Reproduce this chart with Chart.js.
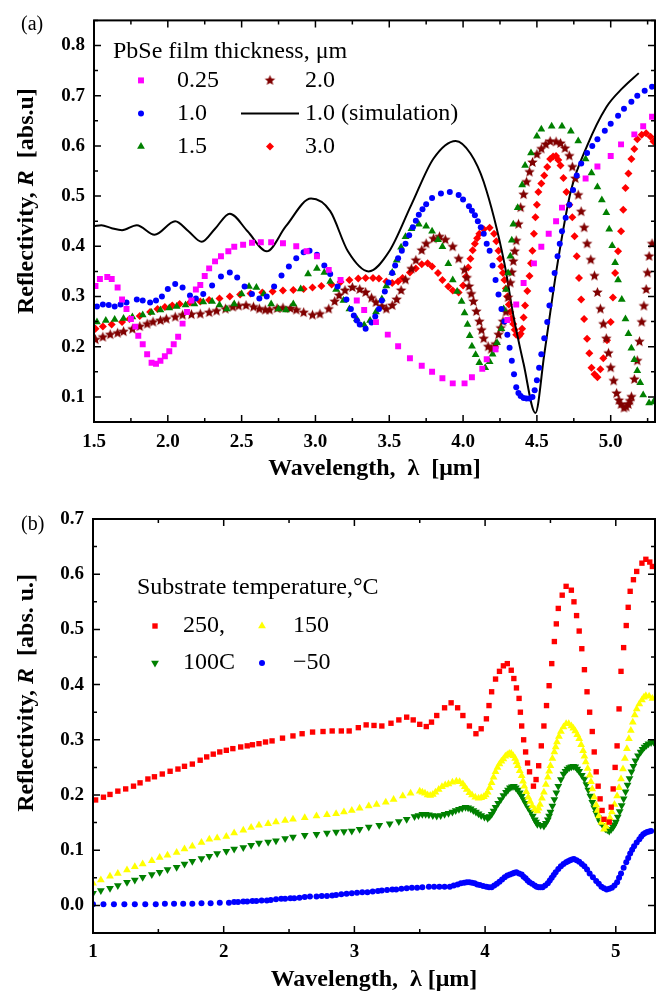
<!DOCTYPE html>
<html>
<head>
<meta charset="utf-8">
<title>PbSe reflectivity</title>
<script src="https://cdn.jsdelivr.net/npm/chart.js@4.4.1/dist/chart.umd.min.js"></script>
<style>
  body { margin: 0; background: #fff; }
  canvas { display: block; }
</style>
</head>
<body>
<canvas id="film-chart" width="665" height="495"></canvas>
<canvas id="temp-chart" width="665" height="505"></canvas>
<script>
// ---- (a) PbSe film thickness ----
const filmWl025 = [
  1.51, 1.54, 1.59, 1.62, 1.66, 1.69, 1.72, 1.75, 1.78, 1.80,
  1.83, 1.86, 1.89, 1.92, 1.95, 1.98, 2.01, 2.04, 2.07, 2.10,
  2.13, 2.16, 2.19, 2.22, 2.25, 2.28, 2.32, 2.36, 2.41, 2.45,
  2.51, 2.57, 2.63, 2.70, 2.78, 2.87, 2.94, 3.01, 3.09, 3.17,
  3.28, 3.33, 3.41, 3.49, 3.56, 3.64, 3.72, 3.79, 3.86, 3.93,
  4.01, 4.06, 4.13, 4.16, 4.22, 4.30, 4.36, 4.41, 4.48, 4.53,
  4.58, 4.63, 4.67, 4.83, 4.91, 5.00, 5.07, 5.16, 5.22, 5.28,
];
const filmR025 = [
  0.321, 0.335, 0.339, 0.335, 0.318, 0.294, 0.275, 0.255, 0.240, 0.222,
  0.205, 0.185, 0.168, 0.166, 0.172, 0.181, 0.191, 0.205, 0.220, 0.246,
  0.269, 0.292, 0.314, 0.323, 0.341, 0.356, 0.370, 0.380, 0.390, 0.399,
  0.403, 0.407, 0.408, 0.408, 0.406, 0.400, 0.390, 0.380, 0.353, 0.333,
  0.292, 0.273, 0.249, 0.224, 0.201, 0.177, 0.162, 0.150, 0.137, 0.127,
  0.127, 0.139, 0.156, 0.175, 0.195, 0.253, 0.284, 0.327, 0.366, 0.399,
  0.425, 0.450, 0.477, 0.535, 0.559, 0.580, 0.603, 0.623, 0.639, 0.658,
];

const filmWl10 = [
  1.52, 1.56, 1.60, 1.64, 1.68, 1.72, 1.79, 1.83, 1.88, 1.92,
  1.96, 2.00, 2.05, 2.10, 2.15, 2.19, 2.24, 2.30, 2.36, 2.42,
  2.47, 2.52, 2.57, 2.62, 2.67, 2.72, 2.77, 2.82, 2.87, 2.92,
  2.96, 3.01, 3.06, 3.10, 3.15, 3.21, 3.24, 3.26, 3.28, 3.30,
  3.34, 3.38, 3.405, 3.43, 3.45, 3.47, 3.495, 3.52, 3.54, 3.56,
  3.585, 3.61, 3.635, 3.66, 3.68, 3.70, 3.725, 3.75, 3.79, 3.85,
  3.91, 3.97, 4.00, 4.04, 4.06, 4.08, 4.10, 4.12, 4.14, 4.16,
  4.18, 4.20, 4.22, 4.24, 4.26, 4.28, 4.30, 4.315, 4.33, 4.345,
  4.36, 4.375, 4.39, 4.41, 4.43, 4.45, 4.47, 4.485, 4.50, 4.515,
  4.53, 4.55, 4.57, 4.585, 4.60, 4.62, 4.64, 4.655, 4.67, 4.695,
  4.72, 4.745, 4.77, 4.80, 4.84, 4.875, 4.91, 4.96, 5.00, 5.05,
  5.09, 5.14, 5.18, 5.23, 5.28,
];
const filmR10 = [
  0.280, 0.284, 0.283, 0.280, 0.284, 0.288, 0.294, 0.292, 0.288, 0.292,
  0.300, 0.315, 0.325, 0.318, 0.302, 0.296, 0.305, 0.322, 0.340, 0.348,
  0.338, 0.320, 0.305, 0.296, 0.300, 0.320, 0.342, 0.360, 0.376, 0.388,
  0.391, 0.383, 0.362, 0.345, 0.320, 0.294, 0.275, 0.262, 0.252, 0.244,
  0.236, 0.248, 0.260, 0.275, 0.292, 0.310, 0.328, 0.347, 0.362, 0.376,
  0.391, 0.405, 0.422, 0.438, 0.451, 0.463, 0.474, 0.484, 0.496, 0.505,
  0.508, 0.502, 0.493, 0.480, 0.471, 0.462, 0.450, 0.438, 0.425, 0.405,
  0.391, 0.362, 0.333, 0.304, 0.275, 0.250, 0.224, 0.198, 0.172, 0.145,
  0.119, 0.108, 0.102, 0.098, 0.097, 0.097, 0.100, 0.113, 0.133, 0.158,
  0.185, 0.217, 0.249, 0.282, 0.314, 0.347, 0.380, 0.405, 0.430, 0.457,
  0.483, 0.512, 0.541, 0.565, 0.586, 0.600, 0.613, 0.630, 0.644, 0.660,
  0.674, 0.688, 0.700, 0.710, 0.718,
];

const filmWl15 = [
  1.52, 1.58, 1.64, 1.70, 1.76, 1.83, 1.89, 1.95, 2.01, 2.06,
  2.12, 2.18, 2.24, 2.30, 2.35, 2.40, 2.45, 2.50, 2.55, 2.60,
  2.65, 2.70, 2.75, 2.80, 2.85, 2.90, 2.95, 3.01, 3.06, 3.10,
  3.14, 3.19, 3.23, 3.28, 3.33, 3.37, 3.41, 3.45, 3.48, 3.52,
  3.55, 3.58, 3.61, 3.65, 3.70, 3.75, 3.79, 3.83, 3.86, 3.90,
  3.93, 3.96, 3.99, 4.01, 4.03, 4.045, 4.06, 4.085, 4.11, 4.15,
  4.18, 4.20, 4.23, 4.26, 4.275, 4.29, 4.305, 4.32, 4.33, 4.34,
  4.37, 4.40, 4.42, 4.46, 4.50, 4.53, 4.60, 4.67, 4.73, 4.78,
  4.83, 4.87, 4.91, 4.94, 4.97, 4.99, 5.01, 5.03, 5.05, 5.075,
  5.10, 5.12, 5.14, 5.16, 5.18, 5.20, 5.22, 5.26, 5.29,
];
const filmR15 = [
  0.249, 0.252, 0.254, 0.256, 0.259, 0.263, 0.268, 0.273, 0.277, 0.280,
  0.283, 0.285, 0.289, 0.290, 0.283, 0.275, 0.285, 0.305, 0.320, 0.318,
  0.305, 0.285, 0.275, 0.273, 0.285, 0.315, 0.345, 0.356, 0.348, 0.330,
  0.314, 0.292, 0.275, 0.255, 0.243, 0.252, 0.269, 0.295, 0.321, 0.348,
  0.372, 0.398, 0.419, 0.435, 0.444, 0.440, 0.430, 0.413, 0.399, 0.365,
  0.333, 0.310, 0.290, 0.267, 0.244, 0.222, 0.201, 0.184, 0.168, 0.158,
  0.170, 0.185, 0.208, 0.236, 0.275, 0.314, 0.347, 0.380, 0.412, 0.444,
  0.477, 0.522, 0.561, 0.586, 0.619, 0.633, 0.639, 0.639, 0.629, 0.610,
  0.574, 0.546, 0.518, 0.492, 0.467, 0.434, 0.401, 0.367, 0.333, 0.294,
  0.255, 0.226, 0.197, 0.174, 0.152, 0.128, 0.104, 0.088, 0.090,
];

const filmWl20 = [
  1.51, 1.56, 1.61, 1.66, 1.70, 1.76, 1.81, 1.86, 1.90, 1.95,
  1.99, 2.05, 2.10, 2.16, 2.22, 2.28, 2.33, 2.39, 2.44, 2.48,
  2.53, 2.58, 2.62, 2.66, 2.69, 2.74, 2.78, 2.83, 2.87, 2.92,
  2.98, 3.03, 3.09, 3.13, 3.16, 3.20, 3.25, 3.30, 3.34, 3.38,
  3.41, 3.45, 3.48, 3.52, 3.55, 3.58, 3.61, 3.65, 3.68, 3.72,
  3.75, 3.80, 3.84, 3.88, 3.93, 3.97, 4.01, 4.025, 4.04, 4.055,
  4.07, 4.09, 4.11, 4.125, 4.14, 4.17, 4.19, 4.21, 4.22, 4.24,
  4.255, 4.27, 4.29, 4.305, 4.32, 4.33, 4.34, 4.35, 4.36, 4.375,
  4.39, 4.41, 4.43, 4.45, 4.47, 4.50, 4.53, 4.56, 4.59, 4.63,
  4.66, 4.69, 4.72, 4.74, 4.76, 4.78, 4.80, 4.82, 4.84, 4.865,
  4.89, 4.91, 4.93, 4.95, 4.97, 4.985, 5.00, 5.02, 5.04, 5.055,
  5.07, 5.09, 5.105, 5.12, 5.13, 5.14, 5.16, 5.18, 5.195, 5.21,
  5.225, 5.24, 5.25, 5.26, 5.28,
];
const filmR20 = [
  0.214, 0.219, 0.224, 0.227, 0.230, 0.235, 0.240, 0.245, 0.249, 0.252,
  0.255, 0.259, 0.263, 0.264, 0.265, 0.268, 0.271, 0.275, 0.279, 0.281,
  0.282, 0.279, 0.275, 0.273, 0.273, 0.276, 0.277, 0.276, 0.273, 0.268,
  0.263, 0.265, 0.275, 0.290, 0.302, 0.312, 0.318, 0.314, 0.308, 0.297,
  0.288, 0.280, 0.275, 0.282, 0.294, 0.312, 0.333, 0.355, 0.372, 0.392,
  0.405, 0.415, 0.419, 0.413, 0.399, 0.375, 0.353, 0.337, 0.320, 0.305,
  0.290, 0.270, 0.250, 0.233, 0.216, 0.200, 0.195, 0.198, 0.205, 0.224,
  0.237, 0.250, 0.269, 0.298, 0.327, 0.348, 0.370, 0.390, 0.411, 0.444,
  0.477, 0.503, 0.528, 0.548, 0.567, 0.583, 0.594, 0.603, 0.609, 0.608,
  0.605, 0.595, 0.580, 0.558, 0.535, 0.502, 0.469, 0.437, 0.405, 0.373,
  0.341, 0.308, 0.275, 0.245, 0.216, 0.187, 0.158, 0.132, 0.107, 0.093,
  0.085, 0.078, 0.080, 0.085, 0.092, 0.100, 0.135, 0.172, 0.210, 0.249,
  0.281, 0.314, 0.347, 0.380, 0.405,
];

const filmWl30 = [
  1.51, 1.56, 1.62, 1.69, 1.74, 1.81, 1.88, 1.93, 1.98, 2.03,
  2.08, 2.15, 2.22, 2.28, 2.35, 2.42, 2.49, 2.56, 2.64, 2.71,
  2.78, 2.85, 2.92, 2.98, 3.04, 3.11, 3.17, 3.23, 3.29, 3.34,
  3.39, 3.43, 3.48, 3.52, 3.56, 3.59, 3.64, 3.68, 3.72, 3.76,
  3.79, 3.83, 3.86, 3.90, 3.93, 3.97, 4.00, 4.02, 4.035, 4.05,
  4.065, 4.08, 4.095, 4.11, 4.14, 4.18, 4.21, 4.225, 4.24, 4.25,
  4.26, 4.27, 4.28, 4.29, 4.30, 4.31, 4.32, 4.33, 4.34, 4.35,
  4.36, 4.38, 4.39, 4.40, 4.41, 4.42, 4.435, 4.45, 4.46, 4.47,
  4.48, 4.49, 4.50, 4.51, 4.53, 4.55, 4.57, 4.59, 4.61, 4.63,
  4.645, 4.66, 4.68, 4.70, 4.72, 4.74, 4.755, 4.77, 4.785, 4.80,
  4.82, 4.84, 4.855, 4.87, 4.89, 4.91, 4.93, 4.95, 4.975, 5.00,
  5.015, 5.03, 5.05, 5.07, 5.085, 5.10, 5.12, 5.14, 5.16, 5.18,
  5.21, 5.24, 5.27, 5.29,
];
const filmR30 = [
  0.236, 0.240, 0.244, 0.249, 0.255, 0.261, 0.269, 0.275, 0.279, 0.282,
  0.285, 0.288, 0.290, 0.293, 0.296, 0.300, 0.304, 0.306, 0.308, 0.310,
  0.312, 0.313, 0.315, 0.318, 0.321, 0.324, 0.329, 0.333, 0.336, 0.337,
  0.337, 0.336, 0.330, 0.327, 0.330, 0.337, 0.348, 0.356, 0.364, 0.366,
  0.360, 0.347, 0.333, 0.320, 0.312, 0.308, 0.322, 0.340, 0.358, 0.375,
  0.392, 0.405, 0.416, 0.425, 0.434, 0.437, 0.425, 0.410, 0.391, 0.375,
  0.360, 0.347, 0.333, 0.316, 0.300, 0.284, 0.269, 0.256, 0.245, 0.234,
  0.224, 0.222, 0.226, 0.236, 0.258, 0.282, 0.311, 0.341, 0.366, 0.391,
  0.425, 0.458, 0.483, 0.508, 0.525, 0.541, 0.558, 0.574, 0.579, 0.580,
  0.572, 0.561, 0.536, 0.508, 0.483, 0.458, 0.420, 0.380, 0.337, 0.294,
  0.255, 0.216, 0.187, 0.158, 0.145, 0.139, 0.155, 0.177, 0.213, 0.249,
  0.298, 0.347, 0.390, 0.430, 0.473, 0.516, 0.545, 0.574, 0.594, 0.613,
  0.622, 0.625, 0.618, 0.609,
];

const simWl = [
  1.50, 1.55, 1.62, 1.69, 1.79, 1.91, 2.05, 2.14, 2.23, 2.32,
  2.42, 2.54, 2.67, 2.80, 2.97, 3.10, 3.22, 3.36, 3.50, 3.65,
  3.80, 3.95, 4.05, 4.14, 4.28, 4.34, 4.41, 4.49, 4.55, 4.64,
  4.73, 4.84, 4.97, 5.08, 5.19,
];
const simR = [
  0.440, 0.442, 0.436, 0.432, 0.442, 0.423, 0.450, 0.430, 0.409, 0.435,
  0.465, 0.430, 0.390, 0.440, 0.495, 0.470, 0.390, 0.350, 0.390, 0.483,
  0.575, 0.610, 0.585, 0.528, 0.366, 0.263, 0.166, 0.068, 0.185, 0.366,
  0.510, 0.600, 0.677, 0.715, 0.745,
];

const filmXMajor = [1.5, 2.0, 2.5, 3.0, 3.5, 4.0, 4.5, 5.0];
const filmXMinor = [1.75, 2.25, 2.75, 3.25, 3.75, 4.25, 4.75, 5.25];
const filmYMajor = [0.1, 0.2, 0.3, 0.4, 0.5, 0.6, 0.7, 0.8];
const filmYMinor = [0.05, 0.15, 0.25, 0.35, 0.45, 0.55, 0.65, 0.75, 0.85];

// ---- (b) substrate temperature ----
const tempWl250 = [
  1.02, 1.08, 1.13, 1.19, 1.25, 1.31, 1.36, 1.42, 1.47, 1.53,
  1.59, 1.65, 1.70, 1.76, 1.82, 1.87, 1.92, 1.97, 2.02, 2.07,
  2.13, 2.18, 2.22, 2.27, 2.32, 2.37, 2.45, 2.53, 2.60, 2.68,
  2.76, 2.83, 2.90, 2.96, 3.03, 3.09, 3.15, 3.21, 3.28, 3.34,
  3.40, 3.45, 3.50, 3.55, 3.59, 3.63, 3.69, 3.74, 3.79, 3.83,
  3.88, 3.93, 3.97, 4.01, 4.03, 4.05, 4.08, 4.11, 4.14, 4.17,
  4.20, 4.22, 4.24, 4.26, 4.27, 4.28, 4.295, 4.31, 4.325, 4.34,
  4.37, 4.39, 4.41, 4.43, 4.45, 4.47, 4.49, 4.51, 4.53, 4.545,
  4.56, 4.59, 4.62, 4.66, 4.68, 4.70, 4.72, 4.74, 4.76, 4.78,
  4.80, 4.82, 4.835, 4.85, 4.865, 4.88, 4.895, 4.91, 4.95, 4.965,
  4.98, 4.995, 5.01, 5.025, 5.04, 5.06, 5.08, 5.095, 5.11, 5.135,
  5.16, 5.20, 5.23, 5.26, 5.28,
];
const tempR250 = [
  0.191, 0.196, 0.201, 0.207, 0.211, 0.216, 0.222, 0.229, 0.233, 0.238,
  0.243, 0.247, 0.252, 0.256, 0.263, 0.269, 0.274, 0.278, 0.281, 0.284,
  0.287, 0.289, 0.291, 0.293, 0.296, 0.298, 0.303, 0.307, 0.311, 0.314,
  0.315, 0.316, 0.316, 0.316, 0.322, 0.327, 0.326, 0.325, 0.330, 0.336,
  0.341, 0.336, 0.328, 0.324, 0.332, 0.344, 0.358, 0.367, 0.358, 0.344,
  0.325, 0.311, 0.320, 0.338, 0.362, 0.387, 0.410, 0.424, 0.434, 0.438,
  0.426, 0.411, 0.394, 0.375, 0.350, 0.325, 0.300, 0.278, 0.258, 0.242,
  0.216, 0.228, 0.253, 0.289, 0.325, 0.362, 0.398, 0.438, 0.478, 0.510,
  0.538, 0.562, 0.578, 0.571, 0.550, 0.525, 0.497, 0.465, 0.427, 0.387,
  0.350, 0.315, 0.278, 0.242, 0.216, 0.193, 0.172, 0.156, 0.151, 0.178,
  0.211, 0.250, 0.289, 0.356, 0.424, 0.467, 0.507, 0.540, 0.569, 0.590,
  0.605, 0.620, 0.627, 0.622, 0.614,
];

const tempWl150 = [
  1.00, 1.06, 1.13, 1.19, 1.26, 1.32, 1.38, 1.45, 1.51, 1.57,
  1.64, 1.70, 1.76, 1.83, 1.89, 1.95, 2.02, 2.08, 2.15, 2.21,
  2.27, 2.34, 2.40, 2.47, 2.53, 2.62, 2.71, 2.79, 2.86, 2.92,
  2.98, 3.04, 3.11, 3.17, 3.24, 3.30, 3.37, 3.43, 3.50, 3.52,
  3.54, 3.56, 3.58, 3.60, 3.62, 3.645, 3.67, 3.695, 3.72, 3.75,
  3.78, 3.805, 3.83, 3.845, 3.86, 3.88, 3.90, 3.925, 3.95, 3.97,
  3.99, 4.005, 4.02, 4.035, 4.05, 4.065, 4.08, 4.095, 4.11, 4.125,
  4.14, 4.155, 4.17, 4.185, 4.20, 4.215, 4.23, 4.24, 4.25, 4.265,
  4.28, 4.29, 4.30, 4.315, 4.33, 4.345, 4.36, 4.38, 4.40, 4.41,
  4.42, 4.435, 4.45, 4.465, 4.48, 4.49, 4.50, 4.515, 4.53, 4.54,
  4.55, 4.565, 4.58, 4.60, 4.62, 4.64, 4.66, 4.675, 4.69, 4.705,
  4.72, 4.735, 4.75, 4.76, 4.77, 4.785, 4.80, 4.81, 4.82, 4.835,
  4.85, 4.86, 4.87, 4.89, 4.91, 4.925, 4.94, 4.955, 4.97, 4.99,
  5.01, 5.025, 5.04, 5.055, 5.07, 5.085, 5.10, 5.115, 5.13, 5.145,
  5.16, 5.18, 5.20, 5.215, 5.23, 5.255, 5.28,
];
const tempR150 = [
  0.040, 0.046, 0.053, 0.058, 0.064, 0.070, 0.075, 0.081, 0.087, 0.091,
  0.096, 0.102, 0.107, 0.114, 0.120, 0.122, 0.125, 0.131, 0.136, 0.141,
  0.145, 0.148, 0.151, 0.154, 0.156, 0.159, 0.162, 0.164, 0.166, 0.169,
  0.172, 0.176, 0.180, 0.183, 0.187, 0.192, 0.198, 0.203, 0.207, 0.205,
  0.203, 0.200, 0.199, 0.201, 0.205, 0.210, 0.215, 0.218, 0.220, 0.223,
  0.225, 0.224, 0.220, 0.215, 0.210, 0.204, 0.200, 0.196, 0.194, 0.195,
  0.197, 0.200, 0.205, 0.213, 0.222, 0.232, 0.242, 0.250, 0.256, 0.261,
  0.265, 0.270, 0.273, 0.275, 0.275, 0.271, 0.266, 0.260, 0.253, 0.244,
  0.235, 0.225, 0.216, 0.206, 0.196, 0.188, 0.180, 0.174, 0.171, 0.176,
  0.183, 0.194, 0.205, 0.219, 0.232, 0.243, 0.253, 0.266, 0.278, 0.287,
  0.296, 0.306, 0.315, 0.323, 0.329, 0.329, 0.325, 0.321, 0.316, 0.309,
  0.302, 0.291, 0.280, 0.270, 0.260, 0.248, 0.236, 0.224, 0.211, 0.196,
  0.182, 0.172, 0.162, 0.150, 0.138, 0.143, 0.150, 0.159, 0.169, 0.183,
  0.198, 0.213, 0.229, 0.247, 0.266, 0.284, 0.302, 0.317, 0.332, 0.345,
  0.356, 0.365, 0.372, 0.377, 0.380, 0.379, 0.375,
];

const tempWl100 = [
  1.00, 1.06, 1.13, 1.19, 1.26, 1.32, 1.38, 1.45, 1.51, 1.57,
  1.64, 1.70, 1.76, 1.83, 1.89, 1.95, 2.02, 2.08, 2.15, 2.21,
  2.27, 2.34, 2.40, 2.47, 2.53, 2.62, 2.71, 2.79, 2.86, 2.92,
  2.98, 3.04, 3.11, 3.19, 3.27, 3.34, 3.40, 3.46, 3.49, 3.52,
  3.545, 3.57, 3.60, 3.63, 3.66, 3.69, 3.72, 3.75, 3.775, 3.80,
  3.825, 3.85, 3.87, 3.89, 3.91, 3.93, 3.95, 3.97, 3.995, 4.02,
  4.035, 4.05, 4.065, 4.08, 4.10, 4.12, 4.14, 4.16, 4.175, 4.19,
  4.205, 4.22, 4.235, 4.25, 4.265, 4.28, 4.295, 4.31, 4.33, 4.35,
  4.365, 4.38, 4.39, 4.40, 4.425, 4.45, 4.465, 4.48, 4.49, 4.50,
  4.515, 4.53, 4.545, 4.56, 4.58, 4.60, 4.615, 4.63, 4.645, 4.66,
  4.675, 4.69, 4.705, 4.72, 4.74, 4.76, 4.775, 4.79, 4.805, 4.82,
  4.835, 4.85, 4.865, 4.88, 4.90, 4.92, 4.935, 4.95, 4.965, 4.98,
  4.99, 5.00, 5.015, 5.03, 5.045, 5.06, 5.075, 5.09, 5.105, 5.12,
  5.135, 5.15, 5.17, 5.19, 5.205, 5.22, 5.235, 5.25, 5.27, 5.29,
];
const tempR100 = [
  0.022, 0.027, 0.031, 0.036, 0.042, 0.046, 0.051, 0.056, 0.060, 0.065,
  0.069, 0.075, 0.080, 0.085, 0.089, 0.094, 0.098, 0.102, 0.105, 0.109,
  0.113, 0.115, 0.117, 0.121, 0.124, 0.127, 0.129, 0.131, 0.133, 0.134,
  0.135, 0.138, 0.142, 0.145, 0.148, 0.152, 0.156, 0.161, 0.163, 0.165,
  0.165, 0.164, 0.163, 0.162, 0.163, 0.165, 0.167, 0.169, 0.172, 0.174,
  0.176, 0.178, 0.177, 0.175, 0.172, 0.169, 0.166, 0.163, 0.160, 0.158,
  0.161, 0.165, 0.171, 0.178, 0.185, 0.192, 0.199, 0.205, 0.209, 0.213,
  0.215, 0.216, 0.213, 0.209, 0.204, 0.198, 0.192, 0.185, 0.177, 0.169,
  0.162, 0.155, 0.151, 0.147, 0.145, 0.144, 0.149, 0.155, 0.162, 0.169,
  0.180, 0.192, 0.204, 0.216, 0.228, 0.238, 0.243, 0.247, 0.250, 0.251,
  0.252, 0.251, 0.247, 0.243, 0.236, 0.229, 0.219, 0.209, 0.198, 0.187,
  0.177, 0.167, 0.159, 0.151, 0.145, 0.139, 0.137, 0.135, 0.138, 0.142,
  0.146, 0.151, 0.160, 0.170, 0.181, 0.193, 0.206, 0.218, 0.230, 0.242,
  0.252, 0.262, 0.271, 0.278, 0.283, 0.287, 0.290, 0.293, 0.295, 0.296,
];

const tempWlM50 = [
  1.00, 1.08, 1.16, 1.24, 1.32, 1.40, 1.48, 1.55, 1.62, 1.69,
  1.76, 1.83, 1.90, 1.97, 2.04, 2.08, 2.11, 2.15, 2.18, 2.22,
  2.25, 2.29, 2.33, 2.36, 2.40, 2.44, 2.47, 2.51, 2.54, 2.58,
  2.62, 2.66, 2.71, 2.75, 2.79, 2.83, 2.86, 2.90, 2.94, 2.98,
  3.02, 3.06, 3.10, 3.14, 3.18, 3.21, 3.25, 3.29, 3.32, 3.36,
  3.40, 3.44, 3.48, 3.52, 3.57, 3.61, 3.65, 3.69, 3.73, 3.76,
  3.79, 3.815, 3.84, 3.86, 3.88, 3.90, 3.92, 3.94, 3.96, 3.985,
  4.01, 4.03, 4.05, 4.07, 4.09, 4.11, 4.13, 4.15, 4.17, 4.19,
  4.21, 4.225, 4.24, 4.26, 4.28, 4.295, 4.31, 4.325, 4.34, 4.36,
  4.38, 4.395, 4.41, 4.425, 4.44, 4.46, 4.48, 4.495, 4.51, 4.525,
  4.54, 4.56, 4.58, 4.60, 4.62, 4.635, 4.65, 4.665, 4.68, 4.70,
  4.72, 4.74, 4.76, 4.78, 4.80, 4.825, 4.85, 4.87, 4.89, 4.91,
  4.93, 4.95, 4.97, 4.99, 5.01, 5.025, 5.04, 5.06, 5.08, 5.095,
  5.11, 5.125, 5.14, 5.16, 5.18, 5.195, 5.21, 5.225, 5.24, 5.255,
  5.27,
];
const tempRM50 = [
  0.002, 0.002, 0.002, 0.002, 0.002, 0.002, 0.002, 0.003, 0.003, 0.003,
  0.003, 0.004, 0.004, 0.005, 0.005, 0.006, 0.006, 0.007, 0.007, 0.008,
  0.008, 0.009, 0.009, 0.010, 0.011, 0.012, 0.012, 0.013, 0.013, 0.014,
  0.015, 0.016, 0.016, 0.017, 0.017, 0.018, 0.019, 0.020, 0.021, 0.022,
  0.023, 0.024, 0.024, 0.025, 0.026, 0.027, 0.028, 0.029, 0.029, 0.030,
  0.031, 0.032, 0.032, 0.033, 0.034, 0.034, 0.034, 0.034, 0.034, 0.036,
  0.038, 0.040, 0.041, 0.042, 0.042, 0.041, 0.040, 0.038, 0.037, 0.035,
  0.034, 0.033, 0.033, 0.036, 0.039, 0.043, 0.047, 0.051, 0.054, 0.056,
  0.058, 0.059, 0.060, 0.058, 0.056, 0.052, 0.049, 0.045, 0.042, 0.039,
  0.036, 0.034, 0.033, 0.033, 0.033, 0.036, 0.040, 0.045, 0.050, 0.055,
  0.060, 0.066, 0.071, 0.075, 0.078, 0.080, 0.082, 0.083, 0.084, 0.082,
  0.079, 0.075, 0.071, 0.065, 0.058, 0.051, 0.044, 0.039, 0.034, 0.031,
  0.029, 0.030, 0.032, 0.036, 0.042, 0.050, 0.058, 0.068, 0.078, 0.086,
  0.094, 0.101, 0.107, 0.114, 0.120, 0.125, 0.129, 0.131, 0.133, 0.134,
  0.135,
];

const tempXMajor = [1, 2, 3, 4, 5];
const tempXMinor = [1.5, 2.5, 3.5, 4.5];
const tempYMajor = [0.0, 0.1, 0.2, 0.3, 0.4, 0.5, 0.6, 0.7];
const tempYMinor = [-0.05, 0.05, 0.15, 0.25, 0.35, 0.45, 0.55, 0.65];

const SERIF = "'Liberation Serif', 'Times New Roman', serif";

const pts = (xs, ys) => xs.map((x, i) => ({ x, y: ys[i] }));

// filled five-point star, Chart.js has only the asterisk kind
const makeStar = (color, r) => {
  const c = document.createElement("canvas");
  const s = Math.ceil(r * 2 + 2);
  c.width = s;
  c.height = s;
  const g = c.getContext("2d");
  g.fillStyle = color;
  g.beginPath();
  for (let i = 0; i < 10; i++) {
    const rad = i % 2 === 0 ? r : r * 0.45;
    const a = -Math.PI / 2 + (i * Math.PI) / 5;
    g.lineTo(s / 2 + rad * Math.cos(a), s / 2 + rad * Math.sin(a));
  }
  g.closePath();
  g.fill();
  return c;
};

const drawMarker = (ctx, ds, x, y) => {
  ctx.fillStyle = ds.backgroundColor;
  ctx.strokeStyle = ds.backgroundColor;
  const opts = {
    pointStyle: ds.pointStyle,
    rotation: ds.pointRotation || 0,
    radius: ds.pointRadius,
    borderWidth: 0,
  };
  if (Chart.helpers && Chart.helpers.drawPoint) {
    Chart.helpers.drawPoint(ctx, opts, x, y);
  }
};

// ticks pointing inwards on all four sides + closed frame
const frameTicks = {
  id: "frameTicks",
  afterDraw(chart) {
    const { ctx, chartArea: a, scales } = chart;
    ctx.save();
    ctx.strokeStyle = "#000";
    ctx.lineWidth = 1.5;
    ctx.beginPath();
    scales.x.ticks.forEach((t) => {
      const px = scales.x.getPixelForValue(t.value);
      const len = t.label ? 7 : 4;
      ctx.moveTo(px, a.bottom);
      ctx.lineTo(px, a.bottom - len);
      ctx.moveTo(px, a.top);
      ctx.lineTo(px, a.top + len);
    });
    scales.y.ticks.forEach((t) => {
      const py = scales.y.getPixelForValue(t.value);
      const len = t.label ? 7 : 4;
      ctx.moveTo(a.left, py);
      ctx.lineTo(a.left + len, py);
      ctx.moveTo(a.right, py);
      ctx.lineTo(a.right - len, py);
    });
    ctx.stroke();
    ctx.lineWidth = 2;
    ctx.strokeRect(a.left, a.top, a.right - a.left, a.bottom - a.top);
    ctx.restore();
  },
};

// axis titles (with italic R) and the panel letter
const axisText = {
  id: "axisText",
  afterDraw(chart, args, opts) {
    const { ctx, chartArea: a } = chart;
    ctx.save();
    ctx.fillStyle = "#000";
    ctx.textBaseline = "middle";

    ctx.font = `20px ${SERIF}`;
    ctx.textAlign = "left";
    ctx.fillText(opts.panel, opts.panelX, opts.panelY);

    ctx.font = `bold 24px ${SERIF}`;
    ctx.textAlign = "center";
    ctx.fillText(opts.xTitle, (a.left + a.right) / 2, a.bottom + opts.xTitleGap);

    const parts = opts.yTitle.map((p) => ({
      text: p.text,
      font: `${p.italic ? "italic " : ""}bold 24px ${SERIF}`,
    }));
    let total = 0;
    parts.forEach((p) => {
      ctx.font = p.font;
      p.w = ctx.measureText(p.text).width;
      total += p.w;
    });
    ctx.translate(opts.yTitleX, a.top + (a.bottom - a.top) * opts.yTitleFrac);
    ctx.rotate(-Math.PI / 2);
    ctx.textAlign = "left";
    let cx = -total / 2;
    parts.forEach((p) => {
      ctx.font = p.font;
      ctx.fillText(p.text, cx, 0);
      cx += p.w;
    });
    ctx.restore();
  },
};

// legend drawn inside the plot, as in the figure
const insideLegend = {
  id: "insideLegend",
  afterDraw(chart, args, opts) {
    const { ctx, chartArea: a } = chart;
    ctx.save();
    ctx.font = `24px ${SERIF}`;
    ctx.fillStyle = "#000";
    ctx.textBaseline = "middle";
    ctx.textAlign = "left";
    ctx.fillText(opts.title, a.left + opts.titleX, a.top + opts.titleY);
    chart.data.datasets.forEach((ds, i) => {
      const [col, row] = opts.slots[i];
      const mx = a.left + opts.markerX[col];
      const my = a.top + opts.rowY[row];
      if (ds.showLine) {
        ctx.strokeStyle = ds.borderColor;
        ctx.lineWidth = ds.borderWidth;
        ctx.beginPath();
        ctx.moveTo(mx - 29, my);
        ctx.lineTo(mx + 29, my);
        ctx.stroke();
      } else {
        drawMarker(ctx, ds, mx, my);
      }
      ctx.fillStyle = "#000";
      ctx.font = `24px ${SERIF}`;
      ctx.fillText(ds.label, a.left + opts.labelX[col], my);
    });
    ctx.restore();
  },
};

const tickFont = { family: SERIF, size: 19, weight: "bold" };

const makeChart = (id, datasets, cfg) => {
  const xTicks = [...cfg.xMajor, ...cfg.xMinor].sort((p, q) => p - q);
  const yTicks = [...cfg.yMajor, ...cfg.yMinor].sort((p, q) => p - q);
  return new Chart(document.getElementById(id), {
    type: "scatter",
    data: { datasets },
    plugins: [frameTicks, axisText, insideLegend],
    options: {
      responsive: false,
      animation: false,
      events: [],
      layout: { padding: cfg.padding },
      scales: {
        x: {
          type: "linear",
          min: cfg.xMin,
          max: cfg.xMax,
          afterBuildTicks: (s) => {
            s.ticks = xTicks.map((v) => ({ value: v }));
          },
          afterFit: (s) => {
            s.height = cfg.xAxisHeight;
          },
          grid: { display: false, drawTicks: false },
          border: { display: false },
          ticks: {
            autoSkip: false,
            maxRotation: 0,
            padding: cfg.xPad,
            color: "#000",
            font: tickFont,
            callback: (v) => (cfg.xMajor.includes(v) ? cfg.xFmt(v) : ""),
          },
        },
        y: {
          type: "linear",
          min: cfg.yMin,
          max: cfg.yMax,
          afterBuildTicks: (s) => {
            s.ticks = yTicks.map((v) => ({ value: v }));
          },
          afterFit: (s) => {
            s.width = cfg.yAxisWidth;
          },
          grid: { display: false, drawTicks: false },
          border: { display: false },
          ticks: {
            autoSkip: false,
            padding: 9,
            color: "#000",
            font: tickFont,
            callback: (v) => (cfg.yMajor.includes(v) ? v.toFixed(1) : ""),
          },
        },
      },
      plugins: {
        legend: { display: false },
        tooltip: { enabled: false },
        axisText: cfg.text,
        insideLegend: cfg.legend,
      },
    },
  });
};

const filmDatasets = [
  {
    label: "0.25",
    data: pts(filmWl025, filmR025),
    showLine: false,
    pointStyle: "rect",
    pointRadius: 4.2,
    pointBorderWidth: 0,
    backgroundColor: "#ff00ff",
    borderColor: "#ff00ff",
  },
  {
    label: "1.0",
    data: pts(filmWl10, filmR10),
    showLine: false,
    pointStyle: "circle",
    pointRadius: 3,
    pointBorderWidth: 0,
    backgroundColor: "#0000ff",
    borderColor: "#0000ff",
  },
  {
    label: "1.5",
    data: pts(filmWl15, filmR15),
    showLine: false,
    pointStyle: "triangle",
    pointRadius: 4.5,
    pointBorderWidth: 0,
    backgroundColor: "#008000",
    borderColor: "#008000",
  },
  {
    label: "2.0",
    data: pts(filmWl20, filmR20),
    showLine: false,
    pointStyle: makeStar("#800000", 5.5),
    pointRadius: 5.5,
    pointBorderWidth: 0,
    backgroundColor: "#800000",
    borderColor: "#800000",
  },
  {
    label: "1.0 (simulation)",
    data: pts(simWl, simR),
    showLine: true,
    cubicInterpolationMode: "monotone",
    pointRadius: 0,
    borderWidth: 2,
    borderColor: "#000000",
    backgroundColor: "#000000",
  },
  {
    label: "3.0",
    data: pts(filmWl30, filmR30),
    showLine: false,
    pointStyle: "rectRot",
    pointRadius: 4,
    pointBorderWidth: 0,
    backgroundColor: "#ff0000",
    borderColor: "#ff0000",
  },
];

const tempDatasets = [
  {
    label: "250,",
    data: pts(tempWl250, tempR250),
    showLine: false,
    pointStyle: "rect",
    pointRadius: 3.8,
    pointBorderWidth: 0,
    backgroundColor: "#ff0000",
    borderColor: "#ff0000",
  },
  {
    label: "150",
    data: pts(tempWl150, tempR150),
    showLine: false,
    pointStyle: "triangle",
    pointRadius: 4.5,
    pointBorderWidth: 0,
    backgroundColor: "#ffff00",
    borderColor: "#ffff00",
  },
  {
    label: "100C",
    data: pts(tempWl100, tempR100),
    showLine: false,
    pointStyle: "triangle",
    pointRotation: 180,
    pointRadius: 4.5,
    pointBorderWidth: 0,
    backgroundColor: "#008000",
    borderColor: "#008000",
  },
  {
    label: "\u221250",
    data: pts(tempWlM50, tempRM50),
    showLine: false,
    pointStyle: "circle",
    pointRadius: 3,
    pointBorderWidth: 0,
    backgroundColor: "#0000ff",
    borderColor: "#0000ff",
  },
];

makeChart("film-chart", filmDatasets, {
  padding: { left: 0, top: 11, right: 10, bottom: 0 },
  xMin: 1.5,
  xMax: 5.3,
  yMin: 0.05,
  yMax: 0.85,
  xMajor: filmXMajor,
  xMinor: filmXMinor,
  yMajor: filmYMajor,
  yMinor: filmYMinor,
  xFmt: (v) => v.toFixed(1),
  xAxisHeight: 73,
  yAxisWidth: 94,
  xPad: 9,
  text: {
    panel: "(a)",
    panelX: 21,
    panelY: 25,
    xTitle: "Wavelength,  \u03bb  [\u03bcm]",
    xTitleGap: 47,
    yTitle: [
      { text: "Reflectivity, " },
      { text: "R", italic: true },
      { text: "  [abs.u]" },
    ],
    yTitleX: 27,
    yTitleFrac: 0.45,
  },
  legend: {
    title: "PbSe film thickness, \u03bcm",
    titleX: 19,
    titleY: 31,
    slots: [[0, 0], [0, 1], [0, 2], [1, 0], [1, 1], [1, 2]],
    markerX: [47, 176],
    labelX: [83, 211],
    rowY: [60, 93, 126],
  },
});

makeChart("temp-chart", tempDatasets, {
  padding: { left: 0, top: 24, right: 10, bottom: 0 },
  xMin: 1,
  xMax: 5.3,
  yMin: -0.05,
  yMax: 0.7,
  xMajor: tempXMajor,
  xMinor: tempXMinor,
  yMajor: tempYMajor,
  yMinor: tempYMinor,
  xFmt: (v) => String(v),
  xAxisHeight: 67,
  yAxisWidth: 93,
  xPad: 8,
  text: {
    panel: "(b)",
    panelX: 21,
    panelY: 30,
    xTitle: "Wavelength,  \u03bb [\u03bcm]",
    xTitleGap: 47,
    yTitle: [
      { text: "Reflectivity, " },
      { text: "R", italic: true },
      { text: "  [abs. u.]" },
    ],
    yTitleX: 27,
    yTitleFrac: 0.42,
  },
  legend: {
    title: "Substrate temperature,\u00b0C",
    titleX: 44,
    titleY: 69,
    slots: [[0, 0], [1, 0], [0, 1], [1, 1]],
    markerX: [62, 169],
    labelX: [90, 200],
    rowY: [107, 144],
  },
});
</script>
</body>
</html>
